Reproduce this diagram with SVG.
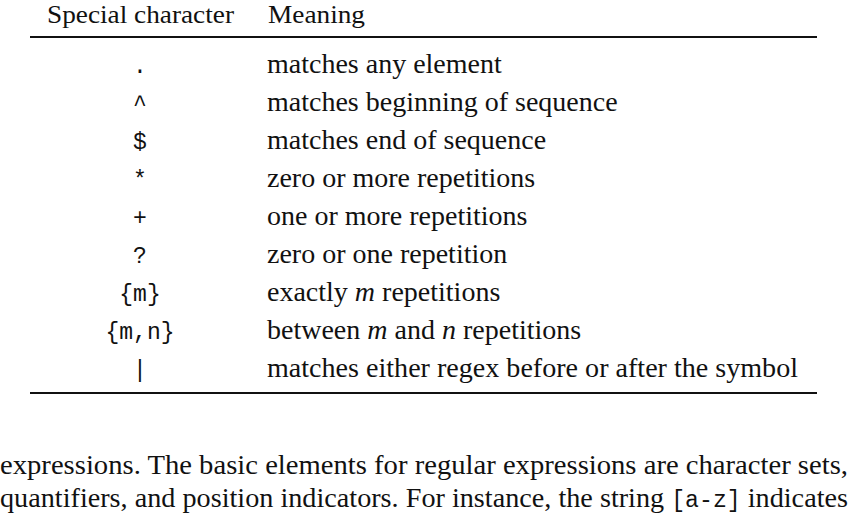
<svg xmlns="http://www.w3.org/2000/svg" width="850" height="521" viewBox="0 0 850 521">
<style>
.s{font-family:"Liberation Serif","DejaVu Serif",serif;font-size:28px;fill:#111}
.h{font-family:"Liberation Serif","DejaVu Serif",serif;font-size:26px;fill:#111}
.m{font-family:"Liberation Mono","DejaVu Sans Mono",monospace;font-size:23px;fill:#111;text-anchor:middle}
.r{stroke:#111;stroke-width:2}
</style>
<rect width="850" height="521" fill="#fff"/>
<g id="table">
<text class="h" x="47" y="23" textLength="187" lengthAdjust="spacingAndGlyphs">Special character</text>
<text class="h" x="268" y="23" textLength="97" lengthAdjust="spacingAndGlyphs">Meaning</text>
<line class="r" x1="30" y1="37" x2="817" y2="37"/>
<text class="m" x="140" y="73">.</text><text class="s" x="267" y="73">matches any element</text>
<text class="m" x="140" y="111">^</text><text class="s" x="267" y="111">matches beginning of sequence</text>
<text class="m" x="140" y="149">$</text><text class="s" x="267" y="149">matches end of sequence</text>
<text class="m" x="140" y="187">*</text><text class="s" x="267" y="187">zero or more repetitions</text>
<text class="m" x="140" y="225">+</text><text class="s" x="267" y="225">one or more repetitions</text>
<text class="m" x="140" y="263">?</text><text class="s" x="267" y="263">zero or one repetition</text>
<text class="m" x="140" y="301">{m}</text><text class="s" x="267" y="301">exactly <tspan font-style="italic">m</tspan> repetitions</text>
<text class="m" x="140" y="339">{m,n}</text><text class="s" x="267" y="339">between <tspan font-style="italic">m</tspan> and <tspan font-style="italic">n</tspan> repetitions</text>
<text class="m" x="140" y="377">|</text><text class="s" x="267" y="377" textLength="531" lengthAdjust="spacingAndGlyphs">matches either regex before or after the symbol</text>
<line class="r" x1="30" y1="393" x2="817" y2="393"/>
</g>
<g id="paragraph">
<text class="s" x="0" y="474" textLength="848" lengthAdjust="spacingAndGlyphs">expressions. The basic elements for regular expressions are character sets,</text>
<text class="s" x="0" y="507" textLength="848" lengthAdjust="spacingAndGlyphs">quantifiers, and position indicators. For instance, the string <tspan font-family="Liberation Mono,monospace" font-size="23">[a-z]</tspan> indicates</text>
</g>
</svg>
